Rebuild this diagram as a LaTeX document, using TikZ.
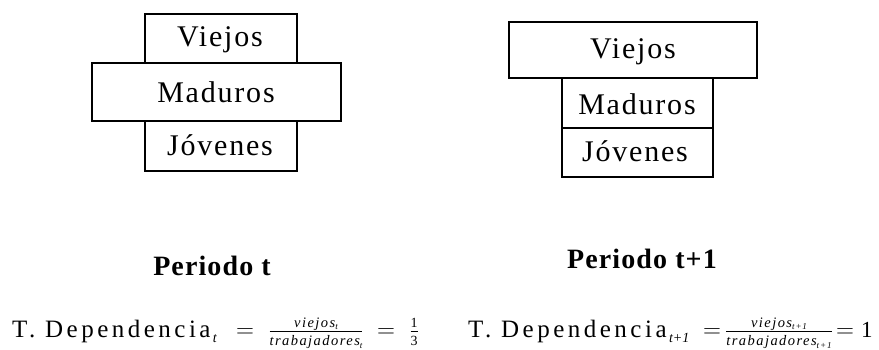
\documentclass[tikz,border=0pt]{standalone}
\usepackage{fontspec}
\setmainfont{Liberation Serif}
\newfontfamily\boxfont[LetterSpace=6]{Liberation Serif}
\newfontfamily\eqfont[LetterSpace=14]{Liberation Serif}
\newfontfamily\fracfont[LetterSpace=10]{Liberation Serif}
\newfontfamily\titlefont[LetterSpace=4]{Liberation Serif}
\tikzset{
  agebox/.style={draw, line width=1.3pt, inner sep=0pt},
  agelabel/.style={font=\boxfont\fontsize{30}{33}\selectfont, inner sep=0pt},
  period/.style={font=\titlefont\bfseries\fontsize{28}{31}\selectfont, anchor=base, inner sep=0pt},
  eqtext/.style={font=\eqfont\fontsize{25}{28}\selectfont, anchor=base west, inner sep=0pt},
  eqpart/.style={font=\fontsize{23}{26}\selectfont, anchor=base, inner sep=0pt},
  eqsub/.style={font=\fontsize{14}{16}\selectfont\itshape, anchor=base west, inner sep=0pt,
    xshift=2pt, yshift=-5pt}
}
% pieces of the small ratios, usable inside math
\newcommand{\fracit}[1]{\mbox{\fracfont\fontsize{14.5}{16}\selectfont\itshape #1}}
\newcommand{\fracsub}[1]{\raisebox{-2.5pt}{\fontsize{9}{10}\selectfont\itshape #1}}
\newcommand{\fracnum}[1]{\mbox{\fontsize{14}{16}\selectfont #1}}
\begin{document}
\begin{tikzpicture}[x=1pt, y=-1pt]
  \useasboundingbox (0,0) rectangle (879,349);

  % Period t: mature cohort is the widest
  \draw[agebox] (145,14) rectangle (297,63);
  \draw[agebox] (92,63) rectangle (341,121);
  \draw[agebox] (145,121) rectangle (297,171);
  \node[agelabel] (v1) at (220,40) {Viejos};
  \node[agelabel] (m1) at (216,92.5) {Maduros};
  \node[agelabel] (j1) at (220,145) {Jóvenes};

  % Period t+1: old cohort is the widest
  \draw[agebox] (509,22) rectangle (757,78);
  \draw[agebox] (562,78) rectangle (713,128);
  \draw[agebox] (562,128) rectangle (713,177);
  \node[agelabel] (v2) at (633,52) {Viejos};
  \node[agelabel] (m2) at (637,104) {Maduros};
  \node[agelabel] (j2) at (635,151) {Jóvenes};

  \node[period] (p1) at (212,275) {Periodo t};
  \node[period] (p2) at (642,268) {Periodo t+1};

  % dependency ratio, period t
  \node[eqtext] (d1) at (12,337) {T. Dependencia};
  \node[eqsub]  (d1s) at (d1.base east) {t};
  \node[eqpart] (d1e) at (245,337) {$=$};
  \node[eqpart] (d1f) at (316,337)
    {$\frac{\fracit{viejos\fracsub{t}}}{\fracit{trabajadores\fracsub{t}}}$};
  \node[eqpart] (d1g) at (386,337) {$=$};
  \node[eqpart] (d1h) at (414,337) {$\frac{\fracnum{1}}{\fracnum{3}}$};

  % dependency ratio, period t+1
  \node[eqtext] (d2) at (468,337) {T. Dependencia};
  \node[eqsub]  (d2s) at (d2.base east) {t+1};
  \node[eqpart] (d2e) at (712,337) {$=$};
  \node[eqpart] (d2f) at (779,337)
    {$\frac{\fracit{viejos\fracsub{t+1}}}{\fracit{trabajadores\fracsub{t+1}}}$};
  \node[eqpart] (d2g) at (845,337) {$=$};
  \node[eqpart, anchor=base west] (d2h) at (861,337) {1};
\end{tikzpicture}
\end{document}
